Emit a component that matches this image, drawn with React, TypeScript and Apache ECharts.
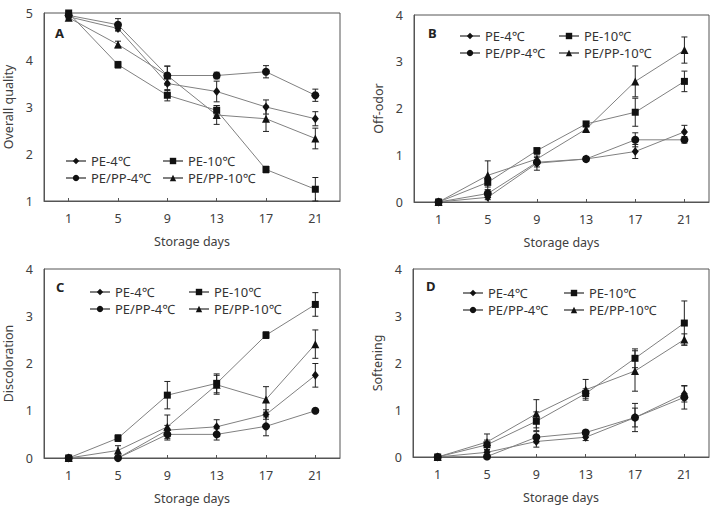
import React, { useEffect, useRef } from "react";
import * as echarts from "echarts";

const DAYS = ["1", "5", "9", "13", "17", "21"];
const NAMES = ["PE-4℃", "PE-10℃", "PE/PP-4℃", "PE/PP-10℃"];
const SYMBOLS = ["diamond", "rect", "circle", "triangle"];
const SYMBOL_SIZES = [[7, 9], 7, 8, 8];

// Panel A: Overall quality
const A_PE4 = [4.92, 4.67, 3.5, 3.33, 3.0, 2.75];
const A_PE10 = [5.0, 3.9, 3.25, 2.93, 1.67, 1.25];
const A_PEPP4 = [4.95, 4.75, 3.67, 3.67, 3.75, 3.25];
const A_PEPP10 = [4.9, 4.33, 3.67, 2.83, 2.75, 2.33];
const A_PE4_ERR = [0.03, 0.05, 0.15, 0.22, 0.15, 0.15];
const A_PE10_ERR = [0.03, 0.07, 0.12, 0.1, 0.07, 0.25];
const A_PEPP4_ERR = [0.03, 0.13, 0.2, 0.07, 0.13, 0.13];
const A_PEPP10_ERR = [0.03, 0.07, 0.2, 0.2, 0.27, 0.22];

// Panel B: Off-odor
const B_PE4 = [0, 0.1, 0.83, 0.92, 1.08, 1.5];
const B_PE10 = [0, 0.42, 1.1, 1.67, 1.92, 2.58];
const B_PEPP4 = [0, 0.18, 0.85, 0.92, 1.33, 1.33];
const B_PEPP10 = [0, 0.57, 0.92, 1.56, 2.58, 3.25];
const B_PE4_ERR = [0, 0.05, 0.15, 0.05, 0.15, 0.14];
const B_PE10_ERR = [0, 0.1, 0.05, 0.05, 0.3, 0.22];
const B_PEPP4_ERR = [0, 0.08, 0.1, 0.05, 0.15, 0.07];
const B_PEPP10_ERR = [0, 0.31, 0.1, 0.05, 0.33, 0.28];

// Panel C: Discoloration
const C_PE4 = [0, 0, 0.59, 0.66, 0.92, 1.75];
const C_PE10 = [0, 0.42, 1.33, 1.58, 2.6, 3.25];
const C_PEPP4 = [0, 0, 0.5, 0.5, 0.67, 1.0];
const C_PEPP10 = [0, 0.16, 0.66, 1.55, 1.24, 2.41];
const C_PE4_ERR = [0, 0.02, 0.1, 0.15, 0.1, 0.25];
const C_PE10_ERR = [0, 0.07, 0.29, 0.2, 0.07, 0.25];
const C_PEPP4_ERR = [0, 0.02, 0.12, 0.12, 0.2, 0.03];
const C_PEPP10_ERR = [0, 0.1, 0.25, 0.2, 0.27, 0.3];

// Panel D: Softening
const D_PE4 = [0, 0.1, 0.33, 0.42, 0.84, 1.34];
const D_PE10 = [0, 0.26, 0.76, 1.35, 2.1, 2.85];
const D_PEPP4 = [0, 0.01, 0.42, 0.52, 0.84, 1.27];
const D_PEPP10 = [0, 0.32, 0.92, 1.43, 1.83, 2.5];
const D_PE4_ERR = [0, 0.05, 0.12, 0.07, 0.3, 0.17];
const D_PE10_ERR = [0, 0.1, 0.2, 0.1, 0.2, 0.47];
const D_PEPP4_ERR = [0, 0.02, 0.12, 0.05, 0.2, 0.25];
const D_PEPP10_ERR = [0, 0.17, 0.3, 0.22, 0.43, 0.12];

const PANEL_LETTERS = ["A", "B", "C", "D"];
const Y_TITLES = ["Overall quality", "Off-odor", "Discoloration", "Softening"];
const X_TITLE = "Storage days";
const Y_MIN = [1, 0, 0, 0];
const Y_MAX = [5, 4, 4, 4];

const PANEL_VALUES = [
  [A_PE4, A_PE10, A_PEPP4, A_PEPP10],
  [B_PE4, B_PE10, B_PEPP4, B_PEPP10],
  [C_PE4, C_PE10, C_PEPP4, C_PEPP10],
  [D_PE4, D_PE10, D_PEPP4, D_PEPP10],
];
const PANEL_ERRORS = [
  [A_PE4_ERR, A_PE10_ERR, A_PEPP4_ERR, A_PEPP10_ERR],
  [B_PE4_ERR, B_PE10_ERR, B_PEPP4_ERR, B_PEPP10_ERR],
  [C_PE4_ERR, C_PE10_ERR, C_PEPP4_ERR, C_PEPP10_ERR],
  [D_PE4_ERR, D_PE10_ERR, D_PEPP4_ERR, D_PEPP10_ERR],
];

const FONT = "'Noto Sans', 'Open Sans', sans-serif";
const TEXT = "#404040";
const AXIS = "#555";

const GRIDS = [
  { left: 44, top: 13, width: 296, height: 188 },
  { left: 414, top: 15, width: 295, height: 187 },
  { left: 44, top: 269, width: 296, height: 189 },
  { left: 413, top: 269, width: 296, height: 188 },
];
const LETTER_POS = [
  [55, 33],
  [428, 33],
  [56, 287],
  [426, 286],
];
const LEGEND_POS = [
  [65, 154, 162],
  [459, 29, 558],
  [89, 285, 188],
  [462, 286, 563],
];

export default function App() {
  const ref = useRef<HTMLDivElement>(null);
  useEffect(() => {
    document.body.style.margin = "0";
    if (!ref.current) return;
    const chart = echarts.init(ref.current, null, { renderer: "svg" });

    const grid: any[] = [];
    const xAxis: any[] = [];
    const yAxis: any[] = [];
    const series: any[] = [];
    const legend: any[] = [];
    const graphic: any[] = [];

    for (let p = 0; p < 4; p++) {
      grid.push({
        ...GRIDS[p],
        show: true,
        borderColor: AXIS,
        borderWidth: 1,
        backgroundColor: "transparent",
      });
      xAxis.push({
        type: "category",
        gridIndex: p,
        data: DAYS,
        boundaryGap: true,
        name: X_TITLE,
        nameLocation: "middle",
        nameGap: 34,
        nameTextStyle: { fontSize: 12.5, color: TEXT, fontFamily: FONT },
        axisLine: { show: true, lineStyle: { color: AXIS, width: 1 } },
        axisTick: { show: true, inside: true, alignWithLabel: true, length: 3, lineStyle: { color: AXIS } },
        axisLabel: { fontSize: 12.5, color: TEXT, fontFamily: FONT, margin: 11 },
        splitLine: { show: false },
      });
      yAxis.push({
        type: "value",
        gridIndex: p,
        min: Y_MIN[p],
        max: Y_MAX[p],
        interval: 1,
        name: Y_TITLES[p],
        nameLocation: "middle",
        nameGap: 29,
        nameTextStyle: { fontSize: 12.5, color: TEXT, fontFamily: FONT },
        axisLine: { show: true, lineStyle: { color: AXIS, width: 1 } },
        axisTick: { show: false },
        axisLabel: { fontSize: 12.5, color: TEXT, fontFamily: FONT, margin: 11 },
        splitLine: { show: false },
      });

      for (let s = 0; s < 4; s++) {
        const vals = PANEL_VALUES[p][s];
        const errs = PANEL_ERRORS[p][s];
        series.push({
          type: "custom",
          name: "err-" + p + "-" + s,
          xAxisIndex: p,
          yAxisIndex: p,
          z: 1,
          silent: true,
          encode: { x: 0, y: 1 },
          data: vals.map((v, i) => [i, v, errs[i]]),
          renderItem: (params: any, api: any) => {
            const x = api.value(0);
            const v = api.value(1);
            const e = api.value(2);
            if (!e) return null;
            const hi = api.coord([x, v + e]);
            const lo = api.coord([x, v - e]);
            const cw = 3;
            const st = { stroke: "#222", lineWidth: 1 };
            return {
              type: "group",
              children: [
                { type: "line", shape: { x1: hi[0], y1: hi[1], x2: lo[0], y2: lo[1] }, style: st },
                { type: "line", shape: { x1: hi[0] - cw, y1: hi[1], x2: hi[0] + cw, y2: hi[1] }, style: st },
                { type: "line", shape: { x1: lo[0] - cw, y1: lo[1], x2: lo[0] + cw, y2: lo[1] }, style: st },
              ],
            };
          },
        });
        series.push({
          type: "line",
          name: NAMES[s],
          xAxisIndex: p,
          yAxisIndex: p,
          z: 3,
          data: vals,
          symbol: SYMBOLS[s],
          symbolSize: SYMBOL_SIZES[s],
          showAllSymbol: true,
          lineStyle: { color: "#808080", width: 1 },
          itemStyle: { color: "#111", borderWidth: 0 },
          emphasis: { disabled: true },
        });
      }

      const [l1, top, l2] = LEGEND_POS[p];
      const legendBase = {
        orient: "vertical",
        top,
        itemWidth: 20,
        itemHeight: 8,
        itemGap: 3,
        selectedMode: false,
        textStyle: { fontSize: 13, lineHeight: 14, color: "#333", fontFamily: FONT },
        padding: 0,
      };
      legend.push({ ...legendBase, left: l1, data: [NAMES[0], NAMES[2]] });
      legend.push({ ...legendBase, left: l2, data: [NAMES[1], NAMES[3]] });

      graphic.push({
        type: "text",
        left: LETTER_POS[p][0],
        top: LETTER_POS[p][1] - 7,
        style: {
          text: PANEL_LETTERS[p],
          font: "bold 13px " + FONT,
          fill: "#222",
        },
      });
    }

    chart.setOption({
      animation: false,
      backgroundColor: "#fff",
      grid,
      xAxis,
      yAxis,
      series,
      legend,
      graphic,
      tooltip: { show: false },
    });
    return () => chart.dispose();
  }, []);
  return <div ref={ref} style={{ width: 714, height: 515 }} />;
}
